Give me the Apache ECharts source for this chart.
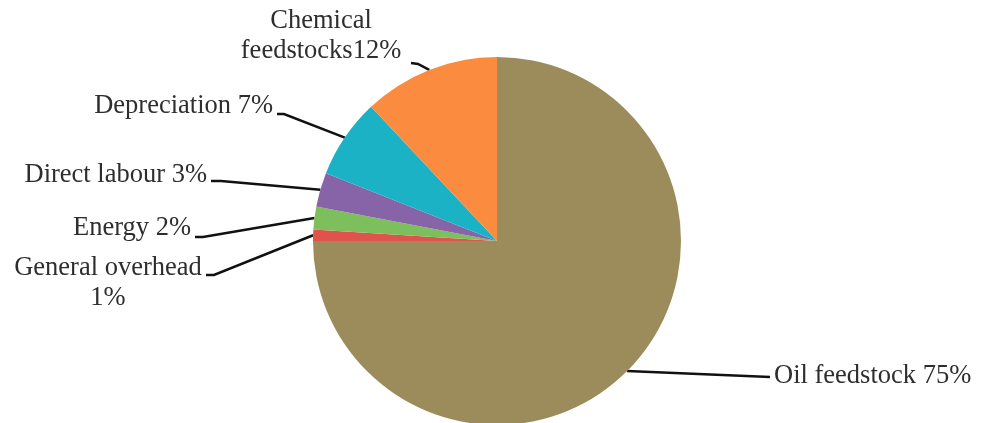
<!DOCTYPE html>
<html>
<head>
<meta charset="utf-8">
<script src="https://cdn.jsdelivr.net/npm/echarts@6/dist/echarts.min.js"></script>
<style>
  html, body { margin: 0; padding: 0; background: #ffffff; }
  #chart { width: 981px; height: 423px; }
</style>
</head>
<body>
<div id="chart"></div>
<script>
// Cost breakdown, percent of total
const categories = ['Oil feedstock', 'General overhead', 'Energy', 'Direct labour', 'Depreciation', 'Chemical feedstocks'];
const shares = [75, 1, 2, 3, 7, 12];
// How each name is printed before its percentage
const labelNames = ['Oil feedstock ', 'General overhead\n', 'Energy ', 'Direct labour ', 'Depreciation ', 'Chemical\nfeedstocks'];

const sliceColors = ['#9d8c5b', '#e0524c', '#7cbf5c', '#8763a7', '#1cb2c6', '#fb8b3e'];

// Callout placement: where each label sits and how its leader line bends
const callouts = [
  { x: 774, y: 376, align: 'left',   line: [[770, 377]] },
  { x: 108, y: 283, align: 'center', line: [[214, 275], [206, 275]] },
  { x: 191, y: 228, align: 'right',  line: [[203, 237], [195, 237]] },
  { x: 207, y: 175, align: 'right',  line: [[221, 181], [211, 181]] },
  { x: 273, y: 106, align: 'right',  line: [[284, 114], [277, 114]] },
  { x: 321, y: 36,  align: 'center', line: [[418, 64], [411, 63]] }
];

const chart = echarts.init(document.getElementById('chart'), null, { renderer: 'canvas' });

chart.setOption({
  backgroundColor: '#ffffff',
  animation: false,
  series: [{
    type: 'pie',
    center: [497, 241],
    radius: 184,
    startAngle: 90,
    clockwise: true,
    avoidLabelOverlap: false,
    data: categories.map((name, i) => ({
      name: name,
      value: shares[i],
      itemStyle: { color: sliceColors[i] }
    })),
    itemStyle: { borderWidth: 0 },
    label: {
      show: true,
      position: 'outside',
      fontFamily: '"Liberation Serif", "DejaVu Serif", serif',
      fontSize: 26.5,
      lineHeight: 30,
      color: '#2e2e2e',
      formatter: p => labelNames[p.dataIndex] + p.value + '%'
    },
    labelLine: {
      show: true,
      length: 20,
      length2: 20,
      lineStyle: { color: '#111111', width: 2.5 }
    },
    labelLayout: function (params) {
      const c = callouts[params.dataIndex];
      const start = params.labelLinePoints ? params.labelLinePoints[0] : null;
      const pts = start ? [start].concat(c.line) : undefined;
      return {
        x: c.x,
        y: c.y,
        align: c.align,
        verticalAlign: 'middle',
        labelLinePoints: pts
      };
    },
    emphasis: { disabled: true }
  }]
});
</script>
</body>
</html>
